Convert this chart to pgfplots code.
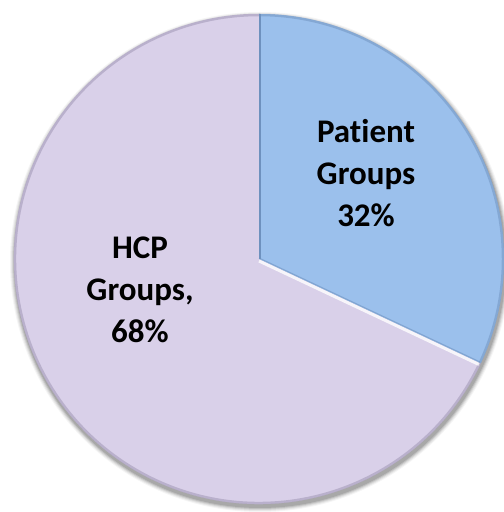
\documentclass[border=0pt]{standalone}
\usepackage{pgfplots}
\usepackage{pgfplotstable}
\pgfplotsset{compat=1.18}
\usepackage{fontspec}
\setmainfont{Carlito}[Ligatures=NoCommon]
\definecolor{pblue}{RGB}{155,192,236}
\definecolor{plav}{RGB}{217,208,233}
\definecolor{pbluedark}{RGB}{110,145,190}
\definecolor{plavdark}{RGB}{165,155,185}
\pgfplotstableread{
label value
Patient 32
HCP 68
}\piedata
\pgfplotstablegetelem{0}{value}\of\piedata
\pgfmathsetmacro{\angA}{90-3.6*\pgfplotsretval}
\pgfplotstablegetelem{1}{value}\of\piedata
\pgfmathsetmacro{\angB}{\angA-3.6*\pgfplotsretval}
\begin{document}
\begin{tikzpicture}
\begin{axis}[
  width=504bp, height=512bp, scale only axis,
  xmin=0, xmax=504, ymin=0, ymax=512,
  hide axis, clip=false,
]
% drop shadow
\fill[black,opacity=0.04] (axis cs:260,250) circle[radius=250bp];
\fill[black,opacity=0.06] (axis cs:260,250) circle[radius=249bp];
\fill[black,opacity=0.08] (axis cs:260,250) circle[radius=248bp];
\fill[black,opacity=0.10] (axis cs:260,250) circle[radius=247bp];
\fill[black,opacity=0.12] (axis cs:260,250) circle[radius=246bp];
% slices
\fill[plav] (axis cs:259,253) -- ++(\angA:245bp) arc[start angle=\angA, end angle=\angB, radius=245bp] -- cycle;
\fill[pblue] (axis cs:259,253) -- ++(90:245bp) arc[start angle=90, end angle=\angA, radius=245bp] -- cycle;
% bevel rims
\draw[plavdark,opacity=0.6,line width=2.5bp] (axis cs:259,253) ++(\angA:244bp) arc[start angle=\angA, end angle=\angB, radius=244bp];
\draw[pbluedark,opacity=0.5,line width=2.5bp] (axis cs:259,253) ++(90:244bp) arc[start angle=90, end angle=\angA, radius=244bp];
\draw[pbluedark,line width=1.5bp] (axis cs:260,253) -- ++(90:245bp);
\draw[white,opacity=0.8,line width=3bp] (axis cs:259,251) -- ++(\angA:243bp);
\draw[pbluedark,opacity=0.6,line width=1bp] (axis cs:259,254) -- ++(\angA:244bp);
% labels
\node[font=\fontsize{33bp}{42bp}\selectfont\bfseries, align=center] at (axis cs:366,339) {Patient\\Groups\\32\%};
\node[font=\fontsize{33bp}{42bp}\selectfont\bfseries, align=center] at (axis cs:140,222) {HCP\\Groups,\\68\%};
\end{axis}
\pgfresetboundingbox
\useasboundingbox (0,0) rectangle (504bp,512bp);
\end{tikzpicture}
\end{document}
